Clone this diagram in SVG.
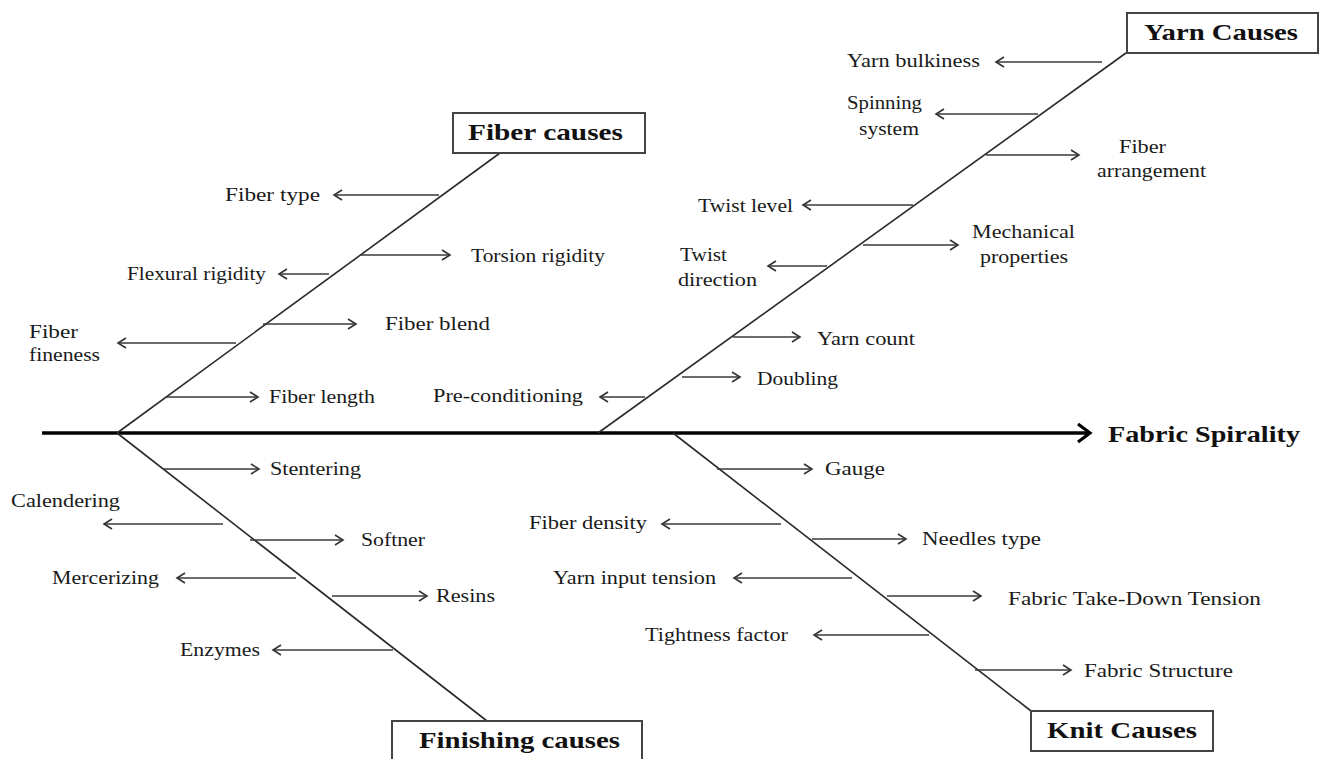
<svg xmlns="http://www.w3.org/2000/svg" width="1326" height="759" viewBox="0 0 1326 759">
<defs>
<marker id="ah" markerUnits="userSpaceOnUse" markerWidth="12" markerHeight="14" refX="9" refY="6" orient="auto">
<path d="M1,1 L9,6 L1,11" fill="none" stroke="#333" stroke-width="1.6"/>
</marker>
<marker id="mainah" markerUnits="userSpaceOnUse" markerWidth="20" markerHeight="24" refX="14" refY="11" orient="auto">
<path d="M2,2 L14,11 L2,20" fill="none" stroke="#000" stroke-width="3.2"/>
</marker>
<style>
.lbl{font-family:"Liberation Serif","Times New Roman",serif;font-size:19px;fill:#1a1a1a;}
.ttl{font-family:"Liberation Serif","Times New Roman",serif;font-size:23px;font-weight:bold;fill:#111;}
.box{fill:#fff;stroke:#444;stroke-width:2;}
.spine{stroke:#2a2a2a;stroke-width:1.6;fill:none;}
.br{stroke:#3a3a3a;stroke-width:1.5;fill:none;marker-end:url(#ah);}
</style>
</defs>
<rect width="1326" height="759" fill="#fff"/>
<g id="connectors">
<line x1="42" y1="433" x2="1090" y2="433" stroke="#000" stroke-width="3.5" marker-end="url(#mainah)"/>
<line class="spine" x1="117" y1="433" x2="500" y2="153"/>
<line class="spine" x1="598" y1="433" x2="1126" y2="53"/>
<line class="spine" x1="117" y1="433" x2="487" y2="721"/>
<line class="spine" x1="673" y1="433" x2="1031" y2="711"/>
<line class="br" x1="1102" y1="62" x2="996" y2="62"/>
<line class="br" x1="1038" y1="114" x2="936" y2="114"/>
<line class="br" x1="986" y1="155" x2="1079" y2="155"/>
<line class="br" x1="913" y1="205" x2="803" y2="205"/>
<line class="br" x1="863" y1="245" x2="958" y2="245"/>
<line class="br" x1="827" y1="266" x2="768" y2="266"/>
<line class="br" x1="733" y1="337" x2="800" y2="337"/>
<line class="br" x1="682" y1="377" x2="740" y2="377"/>
<line class="br" x1="645" y1="397" x2="600" y2="397"/>
<line class="br" x1="439" y1="195" x2="334" y2="195"/>
<line class="br" x1="361" y1="255" x2="450" y2="255"/>
<line class="br" x1="329" y1="274" x2="279" y2="274"/>
<line class="br" x1="263" y1="324" x2="356" y2="324"/>
<line class="br" x1="236" y1="343" x2="118" y2="343"/>
<line class="br" x1="166" y1="397" x2="258" y2="397"/>
<line class="br" x1="164" y1="469" x2="259" y2="469"/>
<line class="br" x1="223" y1="524" x2="104" y2="524"/>
<line class="br" x1="250" y1="540" x2="343" y2="540"/>
<line class="br" x1="296" y1="578" x2="177" y2="578"/>
<line class="br" x1="332" y1="596" x2="427" y2="596"/>
<line class="br" x1="393" y1="650" x2="273" y2="650"/>
<line class="br" x1="717" y1="469" x2="812" y2="469"/>
<line class="br" x1="781" y1="524" x2="662" y2="524"/>
<line class="br" x1="812" y1="539" x2="906" y2="539"/>
<line class="br" x1="852" y1="578" x2="734" y2="578"/>
<line class="br" x1="887" y1="596" x2="981" y2="596"/>
<line class="br" x1="929" y1="635" x2="814" y2="635"/>
<line class="br" x1="975" y1="670" x2="1071" y2="670"/>
</g>
<g id="effect">
<text class="ttl" x="1108" y="442" textLength="192" lengthAdjust="spacingAndGlyphs">Fabric Spirality</text>
</g>
<g id="yarn-causes">
<rect class="box" x="1127" y="13" width="191" height="40"/>
<text class="ttl" x="1144" y="40" textLength="154" lengthAdjust="spacingAndGlyphs">Yarn Causes</text>
</g>
<g id="fiber-causes">
<rect class="box" x="453" y="113" width="192" height="40"/>
<text class="ttl" x="468" y="140" textLength="155" lengthAdjust="spacingAndGlyphs">Fiber causes</text>
</g>
<g id="finishing-causes">
<rect class="box" x="392" y="721" width="250" height="50"/>
<text class="ttl" x="419" y="748" textLength="201" lengthAdjust="spacingAndGlyphs">Finishing causes</text>
</g>
<g id="knit-causes">
<rect class="box" x="1031" y="711" width="182" height="40"/>
<text class="ttl" x="1047" y="738" textLength="150" lengthAdjust="spacingAndGlyphs">Knit Causes</text>
</g>
<g id="yarn-labels">
<text class="lbl" x="847" y="67" textLength="133" lengthAdjust="spacingAndGlyphs">Yarn bulkiness</text>
<text class="lbl" x="847" y="109" textLength="75" lengthAdjust="spacingAndGlyphs">Spinning</text>
<text class="lbl" x="859" y="135" textLength="60" lengthAdjust="spacingAndGlyphs">system</text>
<text class="lbl" x="1119" y="153" textLength="47" lengthAdjust="spacingAndGlyphs">Fiber</text>
<text class="lbl" x="1097" y="177" textLength="109" lengthAdjust="spacingAndGlyphs">arrangement</text>
<text class="lbl" x="698" y="212" textLength="95" lengthAdjust="spacingAndGlyphs">Twist level</text>
<text class="lbl" x="972" y="238" textLength="103" lengthAdjust="spacingAndGlyphs">Mechanical</text>
<text class="lbl" x="980" y="263" textLength="88" lengthAdjust="spacingAndGlyphs">properties</text>
<text class="lbl" x="680" y="261" textLength="47" lengthAdjust="spacingAndGlyphs">Twist</text>
<text class="lbl" x="678" y="286" textLength="79" lengthAdjust="spacingAndGlyphs">direction</text>
<text class="lbl" x="817" y="345" textLength="98" lengthAdjust="spacingAndGlyphs">Yarn count</text>
<text class="lbl" x="757" y="385" textLength="81" lengthAdjust="spacingAndGlyphs">Doubling</text>
<text class="lbl" x="433" y="402" textLength="150" lengthAdjust="spacingAndGlyphs">Pre-conditioning</text>
</g>
<g id="fiber-labels">
<text class="lbl" x="225" y="201" textLength="95" lengthAdjust="spacingAndGlyphs">Fiber type</text>
<text class="lbl" x="471" y="262" textLength="134" lengthAdjust="spacingAndGlyphs">Torsion rigidity</text>
<text class="lbl" x="127" y="280" textLength="139" lengthAdjust="spacingAndGlyphs">Flexural rigidity</text>
<text class="lbl" x="385" y="330" textLength="105" lengthAdjust="spacingAndGlyphs">Fiber blend</text>
<text class="lbl" x="29" y="338" textLength="49" lengthAdjust="spacingAndGlyphs">Fiber</text>
<text class="lbl" x="29" y="361" textLength="71" lengthAdjust="spacingAndGlyphs">fineness</text>
<text class="lbl" x="269" y="403" textLength="106" lengthAdjust="spacingAndGlyphs">Fiber length</text>
</g>
<g id="finishing-labels">
<text class="lbl" x="270" y="475" textLength="91" lengthAdjust="spacingAndGlyphs">Stentering</text>
<text class="lbl" x="11" y="507" textLength="109" lengthAdjust="spacingAndGlyphs">Calendering</text>
<text class="lbl" x="361" y="546" textLength="64" lengthAdjust="spacingAndGlyphs">Softner</text>
<text class="lbl" x="52" y="584" textLength="107" lengthAdjust="spacingAndGlyphs">Mercerizing</text>
<text class="lbl" x="436" y="602" textLength="59" lengthAdjust="spacingAndGlyphs">Resins</text>
<text class="lbl" x="180" y="656" textLength="80" lengthAdjust="spacingAndGlyphs">Enzymes</text>
</g>
<g id="knit-labels">
<text class="lbl" x="825" y="475" textLength="60" lengthAdjust="spacingAndGlyphs">Gauge</text>
<text class="lbl" x="529" y="529" textLength="118" lengthAdjust="spacingAndGlyphs">Fiber density</text>
<text class="lbl" x="922" y="545" textLength="119" lengthAdjust="spacingAndGlyphs">Needles type</text>
<text class="lbl" x="553" y="584" textLength="163" lengthAdjust="spacingAndGlyphs">Yarn input tension</text>
<text class="lbl" x="1008" y="605" textLength="253" lengthAdjust="spacingAndGlyphs">Fabric Take-Down Tension</text>
<text class="lbl" x="645" y="641" textLength="143" lengthAdjust="spacingAndGlyphs">Tightness factor</text>
<text class="lbl" x="1084" y="677" textLength="149" lengthAdjust="spacingAndGlyphs">Fabric Structure</text>
</g>
</svg>
